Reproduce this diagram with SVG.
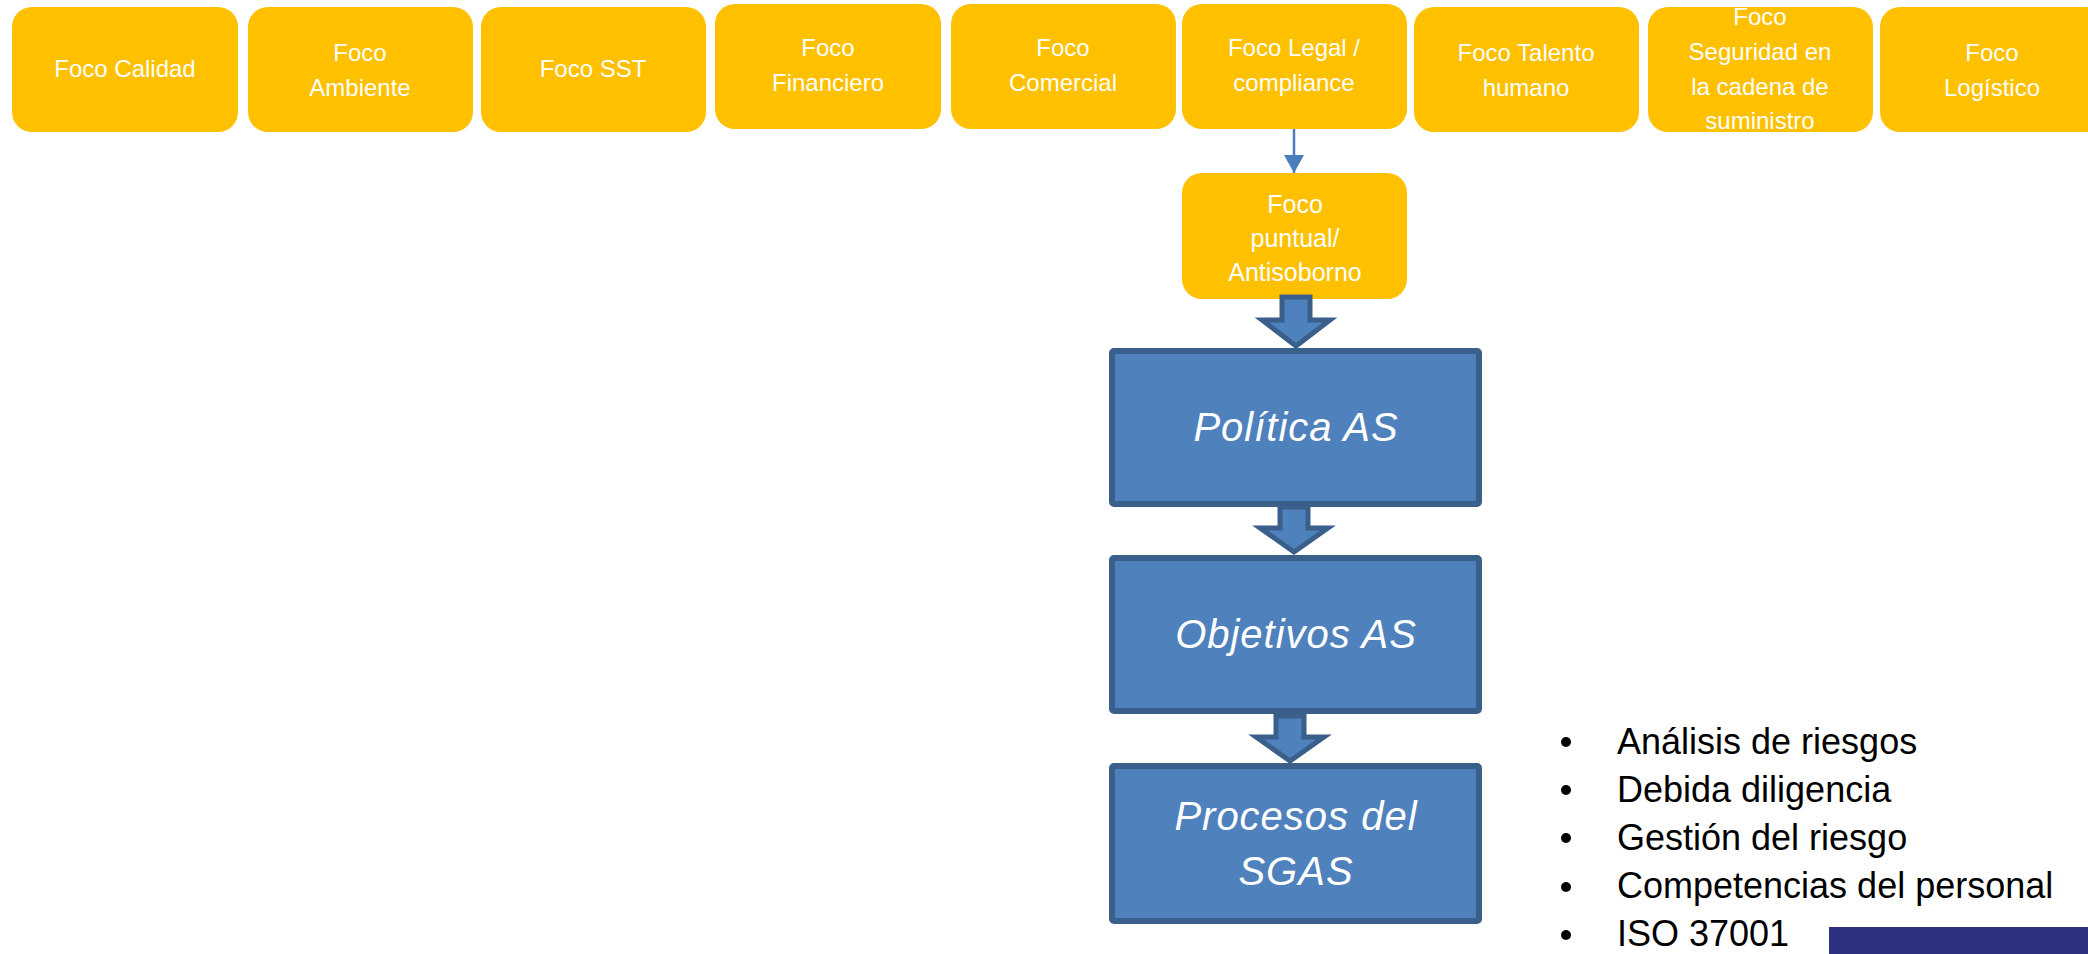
<svg xmlns="http://www.w3.org/2000/svg" width="2088" height="954" viewBox="0 0 2088 954">
  <style>
    .foco { fill: #FFC000; }
    .ft { fill: #FFFFFF; font-family: "Liberation Sans", Arial, sans-serif; font-size: 24px; text-anchor: middle; }
    .ft2 { fill: #FFFFFF; font-family: "Liberation Sans", Arial, sans-serif; font-size: 25px; text-anchor: middle; }
    .blk { fill: #4F81BD; stroke: #3A5F8B; stroke-width: 6; }
    .bt { fill: #FFFFFF; font-family: "Liberation Sans", Arial, sans-serif; font-size: 40px; font-style: italic; text-anchor: middle; letter-spacing: 1px; }
    .barrow { fill: #4F81BD; stroke: #3A5F8B; stroke-width: 5; stroke-linejoin: miter; }
    .li { fill: #000000; font-family: "Liberation Sans", Arial, sans-serif; font-size: 36px; }
  </style>
  <defs>
    <marker id="ah" markerWidth="20" markerHeight="20" refX="18" refY="10" orient="auto" markerUnits="userSpaceOnUse" viewBox="0 0 20 20">
      <path d="M0,0 L18,10 L0,20 Z" fill="#4A7EBB"/>
    </marker>
  </defs>
  <rect width="2088" height="954" fill="#FFFFFF"/>

  <g id="foco-calidad">
    <rect class="foco" x="12" y="7" width="226" height="125" rx="20"/>
    <text class="ft" x="125" y="77">Foco Calidad</text>
  </g>
  <g id="foco-ambiente">
    <rect class="foco" x="248" y="7" width="225" height="125" rx="20"/>
    <text class="ft" x="360" y="61">Foco</text>
    <text class="ft" x="360" y="96">Ambiente</text>
  </g>
  <g id="foco-sst">
    <rect class="foco" x="481" y="7" width="225" height="125" rx="20"/>
    <text class="ft" x="593" y="77">Foco SST</text>
  </g>
  <g id="foco-financiero">
    <rect class="foco" x="715" y="4" width="226" height="125" rx="20"/>
    <text class="ft" x="828" y="56">Foco</text>
    <text class="ft" x="828" y="91">Financiero</text>
  </g>
  <g id="foco-comercial">
    <rect class="foco" x="951" y="4" width="225" height="125" rx="20"/>
    <text class="ft" x="1063" y="56">Foco</text>
    <text class="ft" x="1063" y="91">Comercial</text>
  </g>
  <g id="foco-legal">
    <rect class="foco" x="1182" y="4" width="225" height="125" rx="20"/>
    <text class="ft" x="1294" y="56">Foco Legal /</text>
    <text class="ft" x="1294" y="91">compliance</text>
  </g>
  <g id="foco-talento">
    <rect class="foco" x="1414" y="7" width="225" height="125" rx="20"/>
    <text class="ft" x="1526" y="61">Foco Talento</text>
    <text class="ft" x="1526" y="96">humano</text>
  </g>
  <g id="foco-seguridad">
    <rect class="foco" x="1648" y="7" width="225" height="125" rx="20"/>
    <text class="ft" x="1760" y="25">Foco</text>
    <text class="ft" x="1760" y="60">Seguridad en</text>
    <text class="ft" x="1760" y="95">la cadena de</text>
    <text class="ft" x="1760" y="129">suministro</text>
  </g>
  <g id="foco-logistico">
    <rect class="foco" x="1880" y="7" width="225" height="125" rx="20"/>
    <text class="ft" x="1992" y="61">Foco</text>
    <text class="ft" x="1992" y="96">Logístico</text>
  </g>

  <g id="foco-puntual">
    <rect class="foco" x="1182" y="173" width="225" height="126" rx="20"/>
    <text class="ft2" x="1295" y="213">Foco</text>
    <text class="ft2" x="1295" y="247">puntual/</text>
    <text class="ft2" x="1295" y="281">Antisoborno</text>
  </g>

  <g id="politica">
    <rect class="blk" x="1112" y="351" width="367" height="153" rx="2"/>
    <text class="bt" x="1296" y="441">Política AS</text>
  </g>
  <g id="objetivos">
    <rect class="blk" x="1112" y="558" width="367" height="153" rx="2"/>
    <text class="bt" x="1296" y="648">Objetivos AS</text>
  </g>
  <g id="procesos">
    <rect class="blk" x="1112" y="766" width="367" height="155" rx="2"/>
    <text class="bt" x="1296" y="830">Procesos del</text>
    <text class="bt" x="1296" y="885">SGAS</text>
  </g>

  <g id="connectors">
    <line x1="1294" y1="129" x2="1294" y2="173" stroke="#4A7EBB" stroke-width="2.5" marker-end="url(#ah)"/>
    <path class="barrow" d="M1282,297 L1310,297 L1310,320 L1330,320 L1296,346 L1262,320 L1282,320 Z"/>
    <path class="barrow" d="M1280,507 L1308,507 L1308,528 L1328,528 L1294,552 L1260,528 L1280,528 Z"/>
    <path class="barrow" d="M1276,716 L1304,716 L1304,737 L1324,737 L1290,761 L1256,737 L1276,737 Z"/>
  </g>

  <g id="bullets">
    <circle cx="1566" cy="742" r="5" fill="#000"/>
    <circle cx="1566" cy="790" r="5" fill="#000"/>
    <circle cx="1566" cy="838" r="5" fill="#000"/>
    <circle cx="1566" cy="887" r="5" fill="#000"/>
    <circle cx="1566" cy="935" r="5" fill="#000"/>
    <text class="li" x="1617" y="754">Análisis de riesgos</text>
    <text class="li" x="1617" y="802">Debida diligencia</text>
    <text class="li" x="1617" y="850">Gestión del riesgo</text>
    <text class="li" x="1617" y="898">Competencias del personal</text>
    <text class="li" x="1617" y="946">ISO 37001</text>
  </g>

  <rect id="navy-bar" x="1829" y="927" width="259" height="27" fill="#2E3082"/>
</svg>
